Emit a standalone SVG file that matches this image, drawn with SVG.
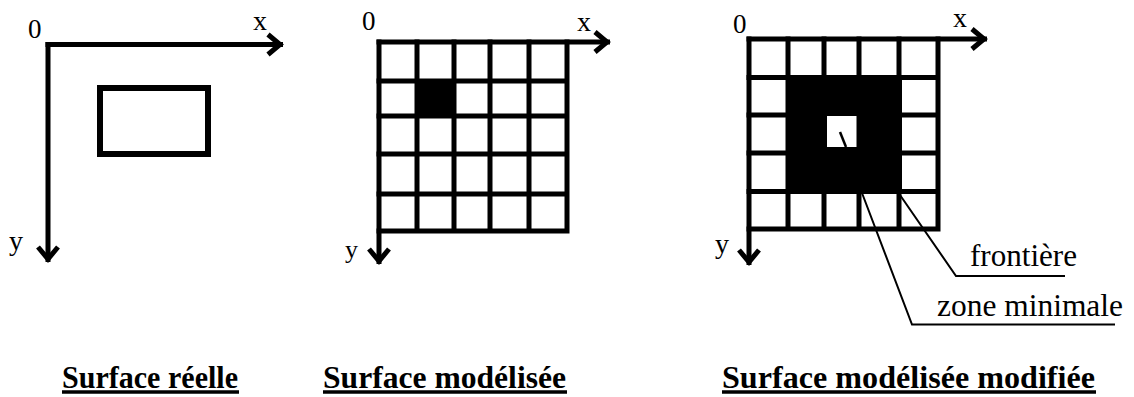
<svg xmlns="http://www.w3.org/2000/svg" width="1134" height="397" viewBox="0 0 1134 397">
<style>
.ax{stroke:#000;stroke-width:5;fill:none}
.grid{stroke:#000;stroke-width:5;fill:none;stroke-linecap:square}
.lead{stroke:#000;stroke-width:2;fill:none}
.lbl{font-family:"Liberation Serif","Times New Roman",serif;font-size:28px;fill:#000}
.note{font-family:"Liberation Serif","Times New Roman",serif;font-size:31px;fill:#000}
.title{font-family:"Liberation Serif","Times New Roman",serif;font-size:32px;font-weight:bold;fill:#000}
.ul{stroke:#000;stroke-width:3.5}
</style>
<defs>
<marker id="chev" markerUnits="userSpaceOnUse" viewBox="-20 -14 24 28" refX="0" refY="0" markerWidth="24" markerHeight="28" orient="auto" overflow="visible">
<path d="M-15,-10 L-3,0 L-15,10" stroke="#000" stroke-width="5" fill="none" stroke-linejoin="miter"/>
</marker>
</defs>
<rect width="1134" height="397" fill="#fff"/>

<g id="panel1">
<rect x="100" y="88" width="108" height="66" fill="none" stroke="#000" stroke-width="6"/>
<text class="lbl" x="28" y="38" style="font-size:27px">0</text>
<text class="lbl" x="253" y="30">x</text>
<text class="lbl" x="9" y="250">y</text>
</g>

<g id="panel2">
<rect x="417" y="81" width="37" height="35" fill="#000"/>
<path class="grid" d="M417,42V231 M454,42V231 M490,42V231 M529,42V231 M567,42V231 M379,81H567 M379,116H567 M379,154H567 M379,194H562 M379,231H567"/>
<text class="lbl" x="362" y="30" style="font-size:27px">0</text>
<text class="lbl" x="577" y="31">x</text>
<text class="lbl" x="345" y="258" style="font-size:26px">y</text>
</g>

<g id="panel3">
<rect x="786" y="75" width="116" height="118" fill="#000"/>
<rect x="827" y="116" width="30" height="31" fill="#fff"/>
<path class="grid" d="M788,39V229 M824,39V229 M859,39V229 M899,39V229 M938,39V229 M749,77.5H938 M749,115H788 M899,115H938 M749,153H788 M899,153H938 M749,191.5H938 M749,229H938"/>
<line x1="840" y1="132" x2="846" y2="147" stroke="#000" stroke-width="2.5"/>
<text class="lbl" x="733" y="33" style="font-size:27px">0</text>
<text class="lbl" x="953" y="27">x</text>
<text class="lbl" x="715" y="253">y</text>
</g>

<g id="connectors">
<line class="ax" x1="45.5" y1="44.5" x2="283" y2="44.5" marker-end="url(#chev)"/>
<line class="ax" x1="48" y1="42" x2="48" y2="262" marker-end="url(#chev)"/>
<line class="ax" x1="376.5" y1="42" x2="610" y2="42" marker-end="url(#chev)"/>
<line class="ax" x1="379" y1="39.5" x2="379" y2="264" marker-end="url(#chev)"/>
<line class="ax" x1="746.5" y1="39" x2="987" y2="39" marker-end="url(#chev)"/>
<line class="ax" x1="749" y1="36.5" x2="749" y2="265" marker-end="url(#chev)"/>
<polyline class="lead" points="900,195 956,276 1065,276"/>
<polyline class="lead" points="862,193 912,324.5 1115,324.5"/>
</g>

<g id="notes">
<text class="note" x="970" y="266" textLength="107" lengthAdjust="spacingAndGlyphs">frontière</text>
<text class="note" x="937" y="316" textLength="186" lengthAdjust="spacingAndGlyphs">zone minimale</text>
</g>

<g id="titles">
<text class="title" x="62" y="388" textLength="176" lengthAdjust="spacingAndGlyphs">Surface réelle</text>
<line class="ul" x1="62" y1="392" x2="239" y2="392"/>
<text class="title" x="323" y="388" textLength="243" lengthAdjust="spacingAndGlyphs">Surface modélisée</text>
<line class="ul" x1="323" y1="392" x2="567" y2="392"/>
<text class="title" x="722" y="388" textLength="373" lengthAdjust="spacingAndGlyphs">Surface modélisée modifiée</text>
<line class="ul" x1="722" y1="392" x2="1096" y2="392"/>
</g>
</svg>
